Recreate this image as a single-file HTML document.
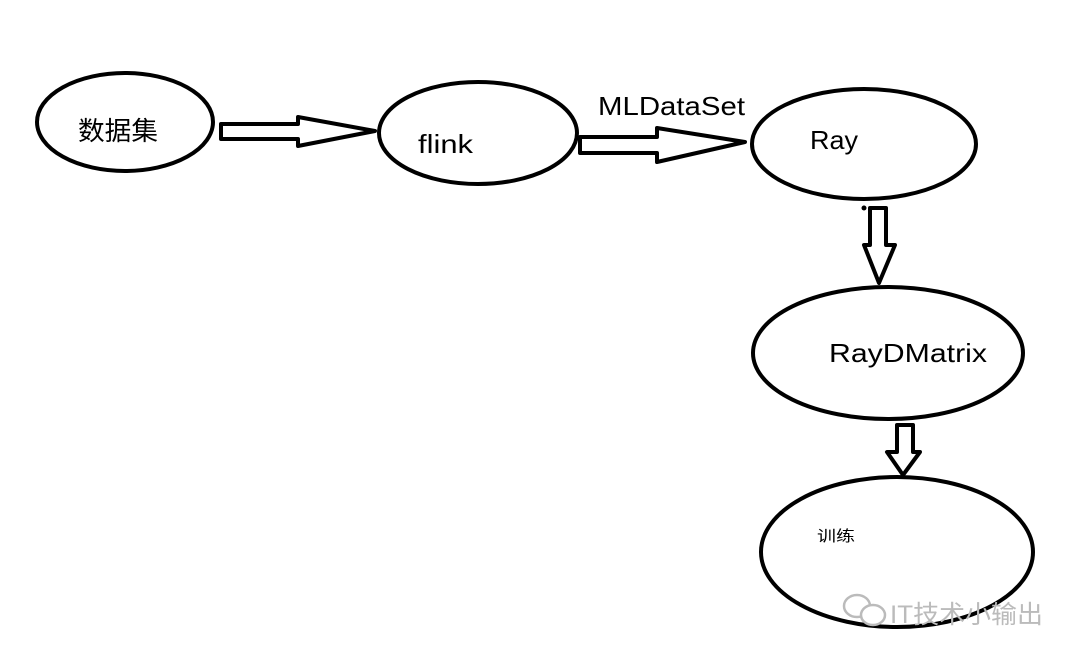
<!DOCTYPE html>
<html><head><meta charset="utf-8"><style>
html,body{margin:0;padding:0;background:#fff;width:1080px;height:661px;overflow:hidden}
svg text{font-family:"Liberation Sans","Noto Sans CJK SC",sans-serif;fill:#000}
</style></head><body>
<svg width="1080" height="661" viewBox="0 0 1080 661" xmlns="http://www.w3.org/2000/svg">
<g fill="none" stroke="#000" stroke-width="4" stroke-linejoin="round">
<ellipse cx="125" cy="122" rx="88" ry="49"/>
<ellipse cx="478" cy="133" rx="99" ry="51"/>
<ellipse cx="864" cy="144" rx="112" ry="55"/>
<ellipse cx="888" cy="353" rx="135" ry="66"/>
<ellipse cx="897" cy="552" rx="136" ry="75"/>
<polygon points="221,124 298,124 298,117 375,131 298,146 298,139 221,139"/>
<polygon points="580,137 657,137 657,128 745,142 657,162 657,153 580,153"/>
<polygon points="870,208 886,208 886,245 895,245 879,283 864,245 870,245"/>
<polygon points="897,425 913,425 913,452 920,452 903,475 887,452 897,452"/>
</g>
<circle cx="864" cy="208" r="2.5" fill="#000"/>
<text x="78" y="140" font-size="26" textLength="80" lengthAdjust="spacingAndGlyphs">数据集</text>
<text x="418" y="153" font-size="26" textLength="55" lengthAdjust="spacingAndGlyphs">flink</text>
<text x="598" y="115" font-size="26" textLength="147" lengthAdjust="spacingAndGlyphs">MLDataSet</text>
<text x="810" y="149" font-size="26" textLength="48" lengthAdjust="spacingAndGlyphs">Ray</text>
<text x="829" y="362" font-size="26" textLength="158" lengthAdjust="spacingAndGlyphs">RayDMatrix</text>
<text x="817" y="541" font-size="15" textLength="38" lengthAdjust="spacingAndGlyphs">训练</text>
<text x="890" y="623" font-size="25" textLength="153" lengthAdjust="spacingAndGlyphs" style="fill:#bbb">IT技术小输出</text>
<g fill="#fff" stroke="#bbb" stroke-width="2.5"><ellipse cx="857" cy="606" rx="13" ry="11"/><ellipse cx="873" cy="615" rx="12" ry="10"/></g>
</svg>
</body></html>
